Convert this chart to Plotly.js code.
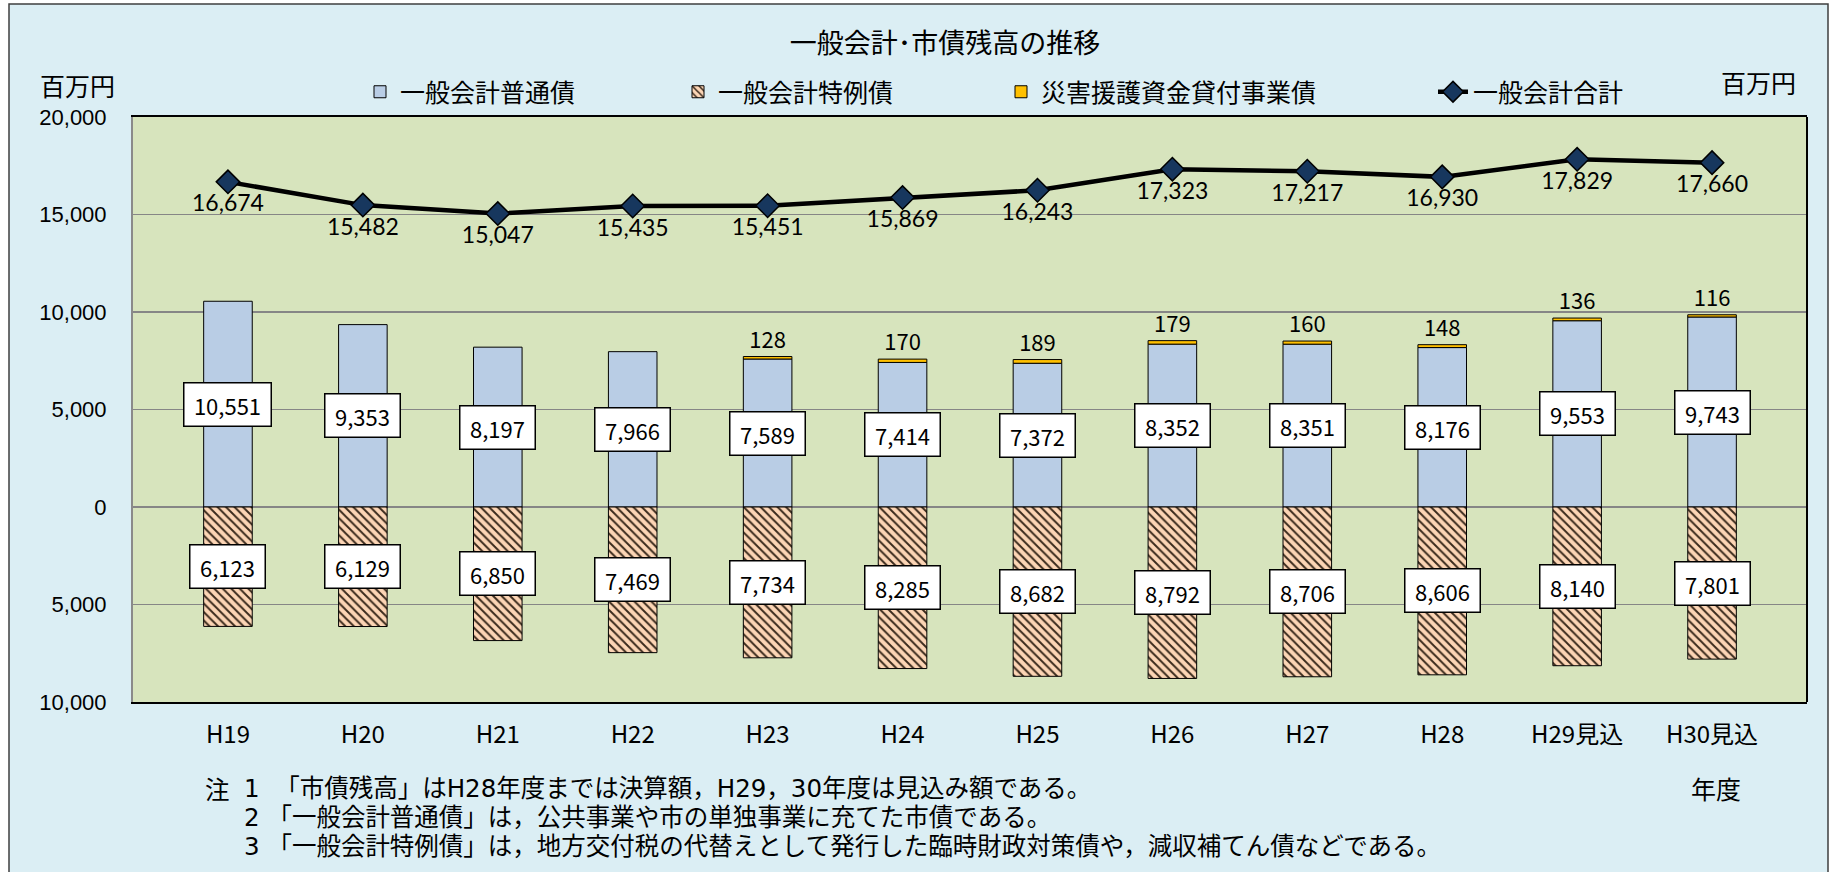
<!DOCTYPE html>
<html><head><meta charset="utf-8">
<script src="https://cdn.plot.ly/plotly-3.0.1.min.js"></script>
<style>html,body{margin:0;padding:0;background:#fff;}#chart{width:1833px;height:872px;}</style>
</head><body><div id="chart"></div>
<script>
// ---- data ----
const categories = ['H19','H20','H21','H22','H23','H24','H25','H26','H27','H28','H29見込','H30見込'];
const futsuuSai = [10551,9353,8197,7966,7589,7414,7372,8352,8351,8176,9553,9743];
const tokureiSai = [6123,6129,6850,7469,7734,8285,8682,8792,8706,8606,8140,7801];
const saigaiSai = [null,null,null,null,128,170,189,179,160,148,136,116];
const goukei = [16674,15482,15047,15435,15451,15869,16243,17323,17217,16930,17829,17660];
const yTickVals = [-10000,-5000,0,5000,10000,15000,20000];
const yTickText = ['10,000','5,000','0','5,000','10,000','15,000','20,000'];
const seriesNames = ['一般会計普通債','一般会計特例債','災害援護資金貸付事業債','一般会計合計'];
const chartTitle = '一般会計･市債残高の推移';
const unitLabel = '百万円';
const xUnitLabel = '年度';
const noteHead = '注';
const notes = [
  '1\u00a0\u00a0「市債残高」はH28年度までは決算額，H29，30年度は見込み額である。',
  '2\u00a0「一般会計普通債」は，公共事業や市の単独事業に充てた市債である。',
  '3\u00a0「一般会計特例債」は，地方交付税の代替えとして発行した臨時財政対策債や，減収補てん債などである。'
];

// ---- geometry ----
const W = 1833, H = 872, L = 133, R = 26, T = 117, B = 170;
const PW = W - L - R, PH = H - T - B;
const px2x = p => (p - L) / PW;
const py2y = p => (H - B - p) / PH;
const fmt = v => v.toLocaleString('en-US');
const JP = '"Noto Sans CJK JP", "Noto Sans", sans-serif';
const NOTEFONT = '"DejaVu Sans", "Noto Sans CJK JP", sans-serif';

const traces = [
  {
    type: 'bar', name: seriesNames[0], x: categories, y: futsuuSai,
    marker: {color: '#B9CDE5', line: {color: '#000', width: 1}},
    legendwidth: 273, hoverinfo: 'x+y'
  },
  {
    type: 'bar', name: seriesNames[1], x: categories, y: tokureiSai.map(v => -v),
    marker: {color: '#FCD5B5', line: {color: '#000', width: 1},
      pattern: {shape: '\\', bgcolor: '#FCD5B5', fgcolor: '#3a2a1c', size: 6, solidity: 0.32, fillmode: 'replace'}},
    legendwidth: 278, hoverinfo: 'x+y'
  },
  {
    type: 'bar', name: seriesNames[2], x: categories, y: saigaiSai,
    marker: {color: '#FFC000', line: {color: '#000', width: 1}},
    text: saigaiSai.map(v => v ? fmt(v) : ''), textposition: 'outside', cliponaxis: false,
    textfont: {family: JP, size: 22, color: '#000'},
    legendwidth: 387, hoverinfo: 'x+y'
  },
  {
    type: 'scatter', mode: 'lines+markers+text', name: seriesNames[3], x: categories, y: goukei,
    line: {color: '#000', width: 4.5},
    marker: {symbol: 'diamond', size: 18, color: '#17375E', line: {color: '#000', width: 1.5}},
    text: goukei.map(fmt), textposition: 'bottom center',
    textfont: {family: 'Lato, "Noto Sans", sans-serif', size: 23, color: '#000'},
    cliponaxis: false, hoverinfo: 'x+y'
  }
];

const annotations = [];
categories.forEach((c, i) => {
  const t1 = fmt(futsuuSai[i]);
  annotations.push({x: c, y: futsuuSai[i] / 2, xref: 'x', yref: 'y', text: t1, showarrow: false,
    bgcolor: '#fff', bordercolor: '#000', borderwidth: 1.5, borderpad: 6,
    width: t1.length * 12 + 2, height: 30,
    font: {family: JP, size: 22, color: '#000'}});
  const t2 = fmt(tokureiSai[i]);
  annotations.push({x: c, y: -tokureiSai[i] / 2, xref: 'x', yref: 'y', text: t2, showarrow: false,
    bgcolor: '#fff', bordercolor: '#000', borderwidth: 1.5, borderpad: 6,
    width: t2.length * 12 + 2, height: 30,
    font: {family: JP, size: 22, color: '#000'}});
});
annotations.push({xref: 'paper', yref: 'paper', x: px2x(77), y: py2y(85), text: unitLabel, showarrow: false,
  xanchor: 'center', yanchor: 'middle', font: {family: JP, size: 25, color: '#000'}});
annotations.push({xref: 'paper', yref: 'paper', x: px2x(1758), y: py2y(82), text: unitLabel, showarrow: false,
  xanchor: 'center', yanchor: 'middle', font: {family: JP, size: 25, color: '#000'}});
annotations.push({xref: 'paper', yref: 'paper', x: px2x(1716), y: py2y(788), text: xUnitLabel, showarrow: false,
  xanchor: 'center', yanchor: 'middle', font: {family: JP, size: 25, color: '#000'}});
annotations.push({xref: 'paper', yref: 'paper', x: px2x(204), y: py2y(788), text: noteHead, showarrow: false,
  xanchor: 'left', yanchor: 'middle', height: 27, borderpad: 0, font: {family: JP, size: 24.5, color: '#000'}});
const noteY = [788, 817, 846];
notes.forEach((n, i) => {
  annotations.push({xref: 'paper', yref: 'paper', x: px2x(243), y: py2y(noteY[i]), text: n, showarrow: false,
    xanchor: 'left', yanchor: 'middle', height: 27, borderpad: 0,
    font: {family: NOTEFONT, size: 24.5, color: '#000'}});
});

const layout = {
  width: W, height: H,
  margin: {l: L, r: R, t: T, b: B, pad: 0},
  paper_bgcolor: '#ffffff', plot_bgcolor: 'rgba(0,0,0,0)',
  barmode: 'relative', bargap: 0.64,
  showlegend: true,
  title: {text: chartTitle, x: 945 / W, xanchor: 'center', y: 1 - 44 / H, yanchor: 'middle',
    font: {family: JP, size: 27, color: '#000'}},
  legend: {orientation: 'h', x: px2x(360), xanchor: 'left', y: py2y(92), yanchor: 'middle',
    font: {family: JP, size: 25, color: '#000'}, bgcolor: 'rgba(0,0,0,0)', traceorder: 'normal'},
  xaxis: {type: 'category', showgrid: false, showline: true, linecolor: '#000', linewidth: 2, mirror: true,
    ticks: '', ticklabelstandoff: 10, tickfont: {family: JP, size: 24, color: '#000'}, fixedrange: true},
  yaxis: {range: [-10000, 20000], tickvals: yTickVals, ticktext: yTickText, showgrid: true,
    gridcolor: '#868686', gridwidth: 1.5, zeroline: false, showline: true, linecolor: '#8a8a8a', linewidth: 2,
    ticks: '', ticklabelstandoff: 20, tickfont: {family: '"Liberation Sans", Arial, sans-serif', size: 22, color: '#000'},
    fixedrange: true},
  shapes: [
    {type: 'rect', xref: 'paper', yref: 'paper', x0: px2x(9), x1: px2x(1828), y0: py2y(900), y1: py2y(4),
      fillcolor: '#DBEEF4', line: {color: '#3f3f3f', width: 1.5}, layer: 'below'},
    {type: 'rect', xref: 'paper', yref: 'paper', x0: 0, x1: 1, y0: 0, y1: 1,
      fillcolor: '#D7E4BD', line: {width: 0}, layer: 'below'},
    {type: 'line', xref: 'paper', yref: 'paper', x0: 1, x1: 1, y0: 0, y1: 1,
      line: {color: '#000', width: 2}, layer: 'above'}
  ],
  annotations: annotations
};

Plotly.newPlot('chart', traces, layout, {displayModeBar: false, staticPlot: true});
</script>
</body></html>
